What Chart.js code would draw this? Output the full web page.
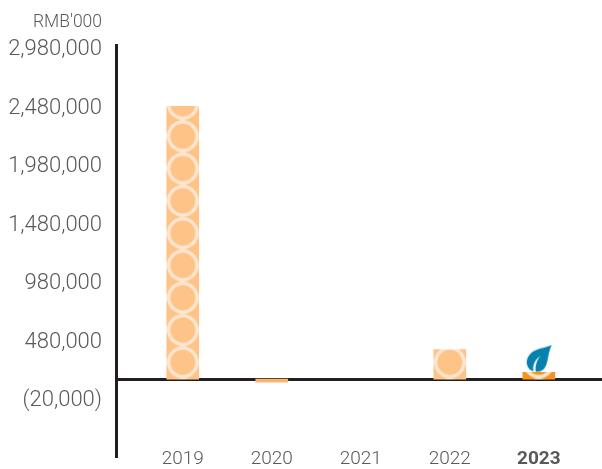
<!DOCTYPE html>
<html lang="en">
<head>
  <meta charset="UTF-8" />
  <title>RMB'000 by year</title>
  <script src="https://cdn.jsdelivr.net/npm/chart.js"></script>
  <style>
    html, body { margin: 0; padding: 0; background: #fff; }
    canvas { display: block; }
  </style>
</head>
<body>
  <canvas id="chart" width="602" height="469"></canvas>
  <script>
    const years = [2019, 2020, 2021, 2022, 2023];
    // bars stand on the drawn baseline, not on zero
    const barTops = [2480000, 120000, null, 400000, 205000];
    const baseline = 146000;
    const yTicks = [2980000, 2480000, 1980000, 1480000, 980000, 480000, -20000];
    const leafYear = 2023;
    const leafValue = 322000;

    const textColor = '#58595B';
    const axisColor = '#231F20';
    const FONT = 'Roboto, sans-serif';

    // ring tile for the bars, one per bar so the rings start at the bar's own edge
    function ringPattern(chart, bg, x, y) {
      const tile = document.createElement('canvas');
      tile.width = 32;
      tile.height = 32;
      const t = tile.getContext('2d');
      t.fillStyle = bg;
      t.fillRect(0, 0, 32, 32);
      t.strokeStyle = '#FEE6CE';
      t.lineWidth = 3.6;
      t.beginPath();
      t.arc(16, 16, 14.2, 0, Math.PI * 2);
      t.stroke();
      const p = chart.ctx.createPattern(tile, 'repeat');
      p.setTransform(new DOMMatrix().translate(x - 16, y - 16).scale(1, 32.3 / 32));
      return p;
    }

    function barFill(c) {
      const chart = c.chart;
      if (!chart.scales.x || c.dataIndex === undefined) return '#FDC387';
      if (barTops[c.dataIndex] < baseline) return '#F9B46E';
      const cx = chart.scales.x.getPixelForValue(years[c.dataIndex]);
      const floor = chart.scales.y.getPixelForValue(baseline);
      const bg = years[c.dataIndex] === 2023 ? '#F7941D' : '#FDC387';
      return ringPattern(chart, bg, cx, floor - 17);
    }

    function leafIcon() {
      const cv = document.createElement('canvas');
      cv.width = 28;
      cv.height = 28;
      const g = cv.getContext('2d');
      g.fillStyle = '#0581AF';
      g.beginPath();
      g.moveTo(27, 0);
      g.bezierCurveTo(23, 3, 14, 3, 8, 7);
      g.bezierCurveTo(1, 12, 0, 20, 5, 25);
      g.bezierCurveTo(8, 27, 11, 27, 13, 27);
      g.bezierCurveTo(20, 27, 22, 20, 23, 14);
      g.bezierCurveTo(24, 9, 25, 4, 27, 0);
      g.fill();
      g.fillStyle = '#fff';
      g.beginPath();
      g.moveTo(16, 11);
      g.bezierCurveTo(10, 15, 7, 21, 9, 28);
      g.lineTo(11, 28);
      g.bezierCurveTo(10, 21, 12, 15, 16, 11);
      g.fill();
      return cv;
    }

    new Chart(document.getElementById('chart'), {
      data: {
        datasets: [
          {
            type: 'bar',
            data: years.map((y, i) => ({ x: y, y: barTops[i] })),
            base: baseline,
            barThickness: 32,
            backgroundColor: barFill,
            borderWidth: 0
          },
          {
            type: 'line',
            data: [{ x: leafYear, y: leafValue }],
            showLine: false,
            pointStyle: leafIcon(),
            pointRadius: 14
          }
        ]
      },
      options: {
        responsive: false,
        devicePixelRatio: 1,
        animation: false,
        layout: { autoPadding: false, padding: { top: 45, right: 0, bottom: 0, left: 0 } },
        plugins: {
          legend: { display: false },
          tooltip: { enabled: false }
        },
        scales: {
          x: {
            type: 'linear',
            offset: false,
            min: 2018.25,
            max: 2023.71,
            grid: { display: false, drawTicks: false },
            border: { display: false },
            afterBuildTicks: (s) => { s.ticks = years.map((v) => ({ value: v })); },
            afterFit: (s) => { s.height = 12; s.paddingLeft = 0; s.paddingRight = 0; },
            ticks: {
              autoSkip: false,
              maxRotation: 0,
              padding: 0,
              color: textColor,
              callback: (v) => String(v),
              font: (c) => c.tick && c.tick.value === 2023
                ? { family: FONT, size: 19, weight: '700' }
                : { family: FONT, size: 19, weight: '300' }
            }
          },
          baseAxis: {
            type: 'linear',
            axis: 'x',
            position: { y: baseline },
            min: 0,
            max: 1,
            z: 2,
            grid: { display: false, drawTicks: false },
            border: { display: true, color: axisColor, width: 3 },
            ticks: { display: false },
            afterFit: (s) => { s.paddingLeft = 0; s.paddingRight = 0; }
          },
          y: {
            min: -520000,
            max: 3005000,
            z: 3,
            grid: { display: false, drawTicks: false },
            border: { display: true, color: axisColor, width: 3 },
            afterBuildTicks: (s) => { s.ticks = yTicks.map((v) => ({ value: v })); },
            afterFit: (s) => { s.width = 116; s.paddingTop = 0; s.paddingBottom = 0; },
            ticks: {
              autoSkip: false,
              padding: 14,
              labelOffset: 2,
              color: textColor,
              font: { family: FONT, size: 22, weight: '300' },
              callback: (v) => v < 0 ? '(' + Math.abs(v).toLocaleString('en-US') + ')' : v.toLocaleString('en-US')
            }
          }
        }
      },
      plugins: [{
        id: 'unitLabel',
        // year labels sit level with the foot of the y axis line
        afterLayout(chart) {
          chart.scales.x.top -= 9;
        },
        afterDraw(chart) {
          const g = chart.ctx;
          g.save();
          g.fillStyle = textColor;
          g.font = '300 17.5px ' + FONT;
          g.textAlign = 'right';
          g.textBaseline = 'middle';
          g.fillText("RMB'000", 102, 23);
          g.restore();
        }
      }]
    });
  </script>
</body>
</html>
